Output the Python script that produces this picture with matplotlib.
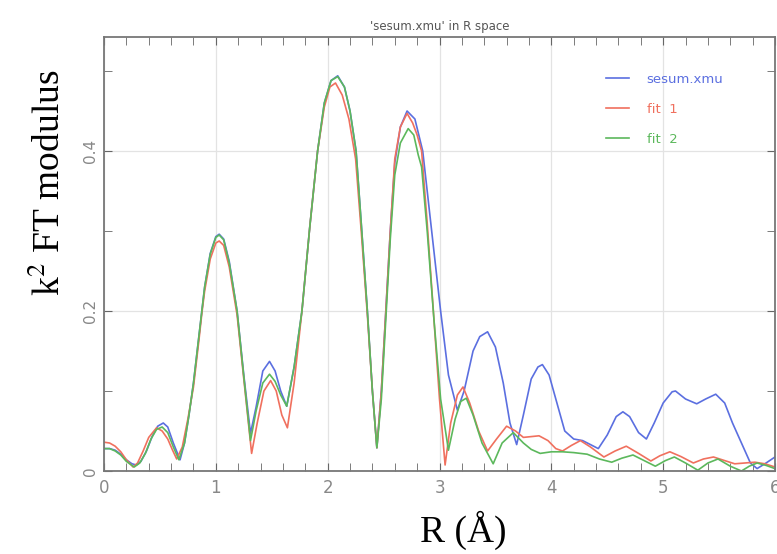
import matplotlib
matplotlib.use('Agg')
import matplotlib.pyplot as plt
from matplotlib.ticker import MultipleLocator
import numpy as np

# values
r_data = [0.00, 0.05, 0.10, 0.15, 0.20, 0.25, 0.29, 0.33, 0.38, 0.43, 0.48, 0.53, 0.57, 0.62, 0.68,
          0.72, 0.76, 0.80, 0.85, 0.875, 0.90, 0.95, 1.00, 1.03, 1.07, 1.12, 1.19, 1.25, 1.31, 1.36,
          1.42, 1.48, 1.53, 1.58, 1.634, 1.70, 1.77, 1.84, 1.91, 1.97, 2.03, 2.09, 2.15, 2.20, 2.254,
          2.30, 2.355, 2.40, 2.44, 2.48, 2.52, 2.56, 2.60, 2.65, 2.71, 2.78, 2.85, 2.93, 3.01, 3.08,
          3.16, 3.22, 3.30, 3.36, 3.43, 3.50, 3.57, 3.63, 3.69, 3.75, 3.82, 3.88, 3.92, 3.98, 4.05,
          4.12, 4.20, 4.28, 4.35, 4.42, 4.50, 4.58, 4.64, 4.70, 4.78, 4.85, 4.92, 5.00, 5.08, 5.11,
          5.20, 5.30, 5.38, 5.47, 5.55, 5.62, 5.70, 5.78, 5.84, 5.92, 6.00]
mod_data = [0.028, 0.028, 0.026, 0.021, 0.014, 0.009, 0.0075, 0.012, 0.025, 0.043, 0.056, 0.060, 0.055, 0.035, 0.014,
            0.035, 0.070, 0.110, 0.170, 0.200, 0.230, 0.272, 0.293, 0.296, 0.290, 0.262, 0.200, 0.120, 0.047, 0.080,
            0.125, 0.137, 0.125, 0.100, 0.081, 0.130, 0.200, 0.305, 0.400, 0.460, 0.488, 0.494, 0.480, 0.450, 0.400,
            0.310, 0.200, 0.100, 0.029, 0.100, 0.200, 0.300, 0.385, 0.430, 0.450, 0.440, 0.400, 0.300, 0.200, 0.120,
            0.076, 0.100, 0.150, 0.168, 0.174, 0.155, 0.110, 0.060, 0.033, 0.070, 0.115, 0.130, 0.133, 0.120, 0.085,
            0.050, 0.040, 0.038, 0.033, 0.028, 0.045, 0.068, 0.074, 0.068, 0.048, 0.040, 0.060, 0.085, 0.099, 0.100,
            0.090, 0.084, 0.090, 0.096, 0.085, 0.060, 0.035, 0.010, 0.003, 0.010, 0.0175]

r_fit1 = [0.00, 0.05, 0.10, 0.15, 0.20, 0.26, 0.30, 0.35, 0.40, 0.47, 0.52, 0.57, 0.61, 0.65, 0.70,
          0.75, 0.80, 0.85, 0.875, 0.90, 0.95, 1.00, 1.03, 1.07, 1.12, 1.19, 1.25, 1.32, 1.37, 1.43,
          1.49, 1.54, 1.59, 1.64, 1.70, 1.77, 1.84, 1.91, 1.97, 2.02, 2.07, 2.13, 2.19, 2.25, 2.30,
          2.355, 2.40, 2.44, 2.48, 2.52, 2.56, 2.60, 2.65, 2.71, 2.76, 2.80, 2.84, 2.89, 2.945, 3.00,
          3.05, 3.10, 3.16, 3.21, 3.27, 3.35, 3.43, 3.51, 3.60, 3.68, 3.75, 3.82, 3.89, 3.97, 4.04,
          4.10, 4.18, 4.26, 4.35, 4.47, 4.57, 4.67, 4.78, 4.89, 4.97, 5.06, 5.16, 5.27, 5.36, 5.45,
          5.55, 5.64, 5.73, 5.82, 5.91, 6.00]
mod_fit1 = [0.036, 0.035, 0.031, 0.024, 0.014, 0.005, 0.010, 0.025, 0.042, 0.054, 0.050, 0.040, 0.027, 0.015, 0.030,
            0.065, 0.105, 0.165, 0.197, 0.225, 0.265, 0.285, 0.2875, 0.282, 0.255, 0.195, 0.115, 0.022, 0.060, 0.100,
            0.113, 0.100, 0.070, 0.054, 0.110, 0.200, 0.305, 0.400, 0.455, 0.480, 0.485, 0.470, 0.440, 0.390, 0.300,
            0.195, 0.100, 0.029, 0.100, 0.200, 0.300, 0.390, 0.430, 0.447, 0.435, 0.420, 0.400, 0.310, 0.200, 0.090,
            0.0075, 0.060, 0.095, 0.105, 0.085, 0.050, 0.025, 0.040, 0.056, 0.050, 0.042, 0.043, 0.044, 0.038, 0.028,
            0.025, 0.032, 0.038, 0.030, 0.0175, 0.025, 0.031, 0.022, 0.0125, 0.019, 0.024, 0.018, 0.010, 0.015, 0.0175,
            0.013, 0.009, 0.010, 0.011, 0.009, 0.005]

r_fit2 = [0.00, 0.05, 0.10, 0.15, 0.20, 0.27, 0.32, 0.37, 0.42, 0.47, 0.52, 0.57, 0.62, 0.67, 0.72,
          0.76, 0.80, 0.85, 0.875, 0.90, 0.95, 1.00, 1.03, 1.07, 1.12, 1.19, 1.25, 1.31, 1.36, 1.42,
          1.48, 1.53, 1.58, 1.634, 1.70, 1.77, 1.84, 1.91, 1.97, 2.03, 2.09, 2.15, 2.20, 2.254, 2.30,
          2.355, 2.40, 2.44, 2.48, 2.52, 2.56, 2.60, 2.65, 2.72, 2.77, 2.81, 2.84, 2.89, 2.95, 3.01,
          3.08, 3.14, 3.19, 3.24, 3.30, 3.38, 3.48, 3.56, 3.66, 3.75, 3.82, 3.90, 4.00, 4.10, 4.20,
          4.32, 4.43, 4.54, 4.63, 4.73, 4.83, 4.93, 5.02, 5.10, 5.20, 5.31, 5.40, 5.49, 5.60, 5.70,
          5.77, 5.84, 5.92, 6.00]
mod_fit2 = [0.028, 0.028, 0.025, 0.020, 0.012, 0.005, 0.010, 0.022, 0.040, 0.052, 0.055, 0.048, 0.030, 0.014, 0.035,
            0.070, 0.110, 0.170, 0.200, 0.230, 0.271, 0.292, 0.295, 0.289, 0.260, 0.200, 0.118, 0.038, 0.075, 0.110,
            0.121, 0.112, 0.095, 0.081, 0.130, 0.200, 0.305, 0.400, 0.460, 0.488, 0.493, 0.480, 0.450, 0.400, 0.310,
            0.200, 0.100, 0.029, 0.090, 0.190, 0.290, 0.370, 0.410, 0.428, 0.420, 0.395, 0.380, 0.300, 0.190, 0.090,
            0.026, 0.065, 0.087, 0.091, 0.070, 0.035, 0.009, 0.035, 0.048, 0.035, 0.027, 0.022, 0.024, 0.024, 0.023,
            0.021, 0.015, 0.011, 0.016, 0.020, 0.013, 0.006, 0.013, 0.0175, 0.010, 0.001, 0.010, 0.015, 0.006, 0.000,
            0.006, 0.010, 0.007, 0.003]

labels = ['sesum.xmu', 'fit  1', 'fit  2']
colors = ['#5b6fe0', '#f0705e', '#5cb85c']

plt.rcParams['mathtext.fontset'] = 'stix'

fig = plt.figure(figsize=(7.77, 5.54), dpi=100)
ax = fig.add_axes([104/777, 1-471/554, (775-104)/777, (471-37)/554])

ax.plot(r_data, mod_data, color=colors[0], linewidth=1.2, label=labels[0])
ax.plot(r_fit1, mod_fit1, color=colors[1], linewidth=1.2, label=labels[1])
ax.plot(r_fit2, mod_fit2, color=colors[2], linewidth=1.2, label=labels[2])

ax.set_xlim(0, 6)
ax.set_ylim(0, 0.5425)
ax.xaxis.set_major_locator(MultipleLocator(1))
ax.xaxis.set_minor_locator(MultipleLocator(0.2))
ax.yaxis.set_major_locator(MultipleLocator(0.2))
ax.yaxis.set_minor_locator(MultipleLocator(0.1))
ax.xaxis.set_major_formatter(plt.FuncFormatter(lambda v, p: '%d' % round(v)))
ax.yaxis.set_major_formatter(plt.FuncFormatter(lambda v, p: '0' if abs(v) < 1e-9 else '%.1f' % v))
for lab in ax.get_yticklabels():
    lab.set_rotation(90)
    lab.set_va('center')
ax.grid(True, which='major', color='#e3e3e3', linewidth=0.9)
ax.set_axisbelow(True)
ax.tick_params(which='both', direction='in', top=True, right=True, length=6,
               color='#666666', labelcolor='#888888', labelsize=11)
ax.tick_params(axis='x', pad=6, labelsize=12)
ax.tick_params(axis='y', pad=4, labelrotation=90)
for s in ax.spines.values():
    s.set_color('#777777')
    s.set_linewidth(1.3)

ax.set_title("'sesum.xmu' in R space", fontsize=8.5, color='#555555', pad=5)

leg = ax.legend(loc='upper left', bbox_to_anchor=(0.73, 0.945), frameon=False,
                fontsize=9.5, labelcolor='linecolor', handlelength=1.8,
                handletextpad=1.3, labelspacing=1.3)

fig.text(50/777, 1-183/554, r'k$^2$ FT modulus', family='Liberation Serif',
         fontsize=27, rotation=90, ha='center', va='center')
fig.text(463/777, 1-530/554, 'R (Å)', family='Liberation Serif',
         fontsize=27, ha='center', va='center')

plt.savefig('out.png', dpi=100)
